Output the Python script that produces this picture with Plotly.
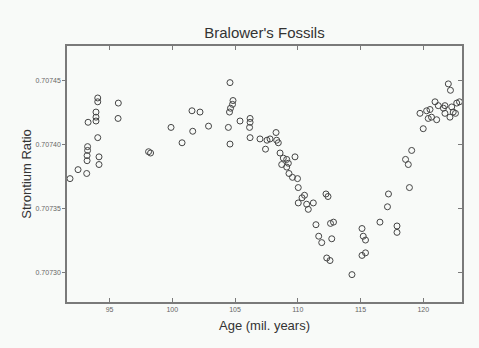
import plotly.graph_objects as go

age = [91.85, 92.49, 93.18, 93.21, 93.21, 93.25, 93.25, 93.29, 93.92, 93.92,
       93.92, 94.06, 94.06, 94.06, 94.16, 94.16, 95.70, 95.68, 98.11, 98.27,
       99.90, 100.78, 101.63, 101.57, 102.21, 102.89, 104.60, 104.84, 104.80, 104.64,
       104.56, 104.47, 104.60, 105.40, 106.20, 106.20, 106.16, 106.20, 106.99, 107.43,
       107.55, 107.79, 108.27, 108.32, 108.45, 108.59, 108.85, 109.12, 109.25, 109.78,
       108.72, 109.12, 109.30, 109.58, 109.98, 110.04, 110.54, 110.34, 110.04, 110.71,
       111.24, 110.84, 112.25, 112.41, 111.45, 111.67, 111.91, 112.61, 112.85, 112.71,
       112.31, 112.57, 114.32, 115.12, 115.22, 115.40, 115.12, 115.40, 116.55, 117.15,
       117.23, 117.91, 117.91, 118.90, 118.59, 118.81, 119.08, 120.00, 119.74, 120.27,
       120.40, 120.66, 121.07, 120.54, 120.94, 121.20, 121.61, 121.73, 121.73, 122.00,
       122.17, 122.27, 122.39, 122.13, 122.57, 122.67, 122.89]

strontium = [0.707373, 0.707380, 0.707377, 0.707387, 0.707391, 0.707395, 0.707398, 0.707417, 0.707425, 0.707421,
             0.707418, 0.707405, 0.707436, 0.707433, 0.707390, 0.707384, 0.707432, 0.707420, 0.707394, 0.707393,
             0.707413, 0.707401, 0.707410, 0.707426, 0.707425, 0.707414, 0.707448, 0.707434, 0.707431, 0.707428,
             0.707425, 0.707413, 0.707400, 0.707418, 0.707420, 0.707417, 0.707413, 0.707405, 0.707404, 0.707396,
             0.707403, 0.707404, 0.707409, 0.707403, 0.707401, 0.707393, 0.707389, 0.707388, 0.707385, 0.707390,
             0.707384, 0.707382, 0.707377, 0.707374, 0.707373, 0.707366, 0.707360, 0.707358, 0.707354, 0.707353,
             0.707354, 0.707349, 0.707361, 0.707359, 0.707337, 0.707328, 0.707323, 0.707338, 0.707339, 0.707326,
             0.707311, 0.707309, 0.707298, 0.707334, 0.707328, 0.707325, 0.707313, 0.707315, 0.707339, 0.707351,
             0.707361, 0.707336, 0.707331, 0.707366, 0.707388, 0.707384, 0.707395, 0.707412, 0.707424, 0.707426,
             0.707420, 0.707421, 0.707419, 0.707427, 0.707433, 0.707430, 0.707428, 0.707430, 0.707424, 0.707447,
             0.707442, 0.707429, 0.707425, 0.707421, 0.707424, 0.707432, 0.707433]

x_ticks = [95, 100, 105, 110, 115, 120]
y_ticks = [0.70730, 0.70735, 0.70740, 0.70745]
y_tick_text = ["0.70730", "0.70735", "0.70740", "0.70745"]

X_RANGE = [91.61, 123.09]
Y_RANGE = [0.7072766, 0.7074766]

fig = go.Figure()
fig.add_trace(go.Scatter(
    x=age, y=strontium, mode="markers",
    marker=dict(symbol="circle-open", size=6, color="#454545", line=dict(width=1, color="#454545")),
    showlegend=False, hoverinfo="skip",
))
fig.add_trace(go.Scatter(x=[], y=[], yaxis="y2", showlegend=False))

axis_color = "#7a7a7a"
font_color = "#333333"
fig.update_layout(
    width=479, height=348,
    margin=dict(l=67, r=17, t=46, b=46),
    paper_bgcolor="#f8faf8", plot_bgcolor="#f8faf8",
    font=dict(family="Liberation Sans, Arial, sans-serif", color=font_color),
    title=dict(text="Bralower's Fossils", x=0.5521, xanchor="center", y=1 - 33/348, yanchor="middle",
               font=dict(size=15, color=font_color)),
    xaxis=dict(range=X_RANGE, tickvals=x_ticks, ticks="inside", ticklen=4, tickwidth=1,
               tickcolor=axis_color, showline=True, linecolor=axis_color, linewidth=1.5,
               mirror="ticks", showgrid=False, zeroline=False,
               tickfont=dict(size=7, color="#666666"),
               title=dict(text="Age (mil. years)", font=dict(size=13, color=font_color), standoff=9)),
    yaxis=dict(range=Y_RANGE, tickvals=y_ticks, ticktext=y_tick_text, ticks="outside", ticklen=3,
               tickwidth=1, tickcolor=axis_color, showline=True, linecolor=axis_color, linewidth=1.5,
               mirror=True, showgrid=False, zeroline=False,
               tickfont=dict(size=7, color="#666666"),
               title=dict(text="Strontium Ratio", font=dict(size=13, color=font_color), standoff=1)),
    yaxis2=dict(range=Y_RANGE, overlaying="y", side="right", tickvals=y_ticks, ticks="inside",
                ticklen=4, tickwidth=1, tickcolor=axis_color, showticklabels=False,
                showgrid=False, zeroline=False, showline=False),
)

fig.write_html("out.html")
